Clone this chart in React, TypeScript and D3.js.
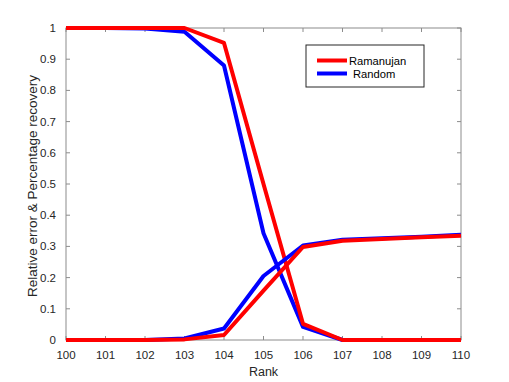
import React from "react";
import * as d3 from "d3";

const ranks = [100, 101, 102, 103, 104, 105, 106, 107, 108, 109, 110];
const ramanujanError = [1, 1, 1, 1, 0.952, 0.5, 0.052, 0, 0, 0, 0];
const randomError = [1, 1, 0.998, 0.988, 0.88, 0.342, 0.042, 0, 0, 0, 0];
const ramanujanRecovery = [0, 0, 0, 0.002, 0.016, 0.158, 0.298, 0.318, 0.324, 0.329, 0.334];
const randomRecovery = [0, 0, 0, 0.005, 0.037, 0.205, 0.303, 0.321, 0.326, 0.331, 0.337];
const xTicks = [100, 101, 102, 103, 104, 105, 106, 107, 108, 109, 110];
const yTicks = [0, 0.1, 0.2, 0.3, 0.4, 0.5, 0.6, 0.7, 0.8, 0.9, 1];
const seriesNames = ["Ramanujan", "Random"];
const seriesColors = ["#ff0000", "#0000ff"];

export default function App() {
  const W = 509, H = 382;
  const x0 = 66, x1 = 461, y0 = 28, y1 = 340;
  const x = d3.scaleLinear().domain([100, 110]).range([x0, x1]);
  const y = d3.scaleLinear().domain([0, 1]).range([y1, y0]);
  const line = d3.line<number>().x((_, i) => x(ranks[i])).y((d) => y(d));
  const axisColor = "#8c8c8c";
  const textColor = "#262626";
  const font = "'Liberation Sans', Arial, sans-serif";
  const tl = 4;
  return (
    <svg width={W} height={H} style={{ position: "absolute", left: 0, top: 0 }} fontFamily={font}>
      <rect width={W} height={H} fill="#fff" />
      <rect x={x0} y={y0} width={x1 - x0} height={y1 - y0} fill="none" stroke={axisColor} strokeWidth={1} />
      {xTicks.map((t) => (
        <g key={"x" + t}>
          <line x1={x(t)} x2={x(t)} y1={y1} y2={y1 - tl} stroke={axisColor} />
          <line x1={x(t)} x2={x(t)} y1={y0} y2={y0 + tl} stroke={axisColor} />
          <text x={x(t)} y={359} textAnchor="middle" fontSize={11.5} fill={textColor}>{t}</text>
        </g>
      ))}
      {yTicks.map((t) => (
        <g key={"y" + t}>
          <line x1={x0} x2={x0 + tl} y1={y(t)} y2={y(t)} stroke={axisColor} />
          <line x1={x1} x2={x1 - tl} y1={y(t)} y2={y(t)} stroke={axisColor} />
          <text x={56} y={y(t) + 4} textAnchor="end" fontSize={11.5} fill={textColor}>{t}</text>
        </g>
      ))}
      <text x={(x0 + x1) / 2} y={376} textAnchor="middle" fontSize={12.5} fill={textColor}>Rank</text>
      <text transform={`translate(37,${186}) rotate(-90)`} textAnchor="middle" fontSize={13.5} fill={textColor}>
        Relative error &amp; Percentage recovery
      </text>
      <path d={line(randomError) || ""} fill="none" stroke={seriesColors[1]} strokeWidth={4} strokeLinejoin="round" />
      <path d={line(ramanujanError) || ""} fill="none" stroke={seriesColors[0]} strokeWidth={4} strokeLinejoin="round" />
      <path d={line(randomRecovery) || ""} fill="none" stroke={seriesColors[1]} strokeWidth={4} strokeLinejoin="round" />
      <path d={line(ramanujanRecovery) || ""} fill="none" stroke={seriesColors[0]} strokeWidth={4} strokeLinejoin="round" />
      <rect x={306} y={45} width={118} height={42} fill="#fff" stroke="#262626" strokeWidth={1} />
      {seriesNames.map((n, i) => (
        <g key={n}>
          <line x1={317} x2={347} y1={60.5 + i * 13} y2={60.5 + i * 13} stroke={seriesColors[i]} strokeWidth={4} />
          <text x={i === 0 ? 349 : 353} y={64.5 + i * 13} fontSize={11.2} fill="#000">{n}</text>
        </g>
      ))}
    </svg>
  );
}
